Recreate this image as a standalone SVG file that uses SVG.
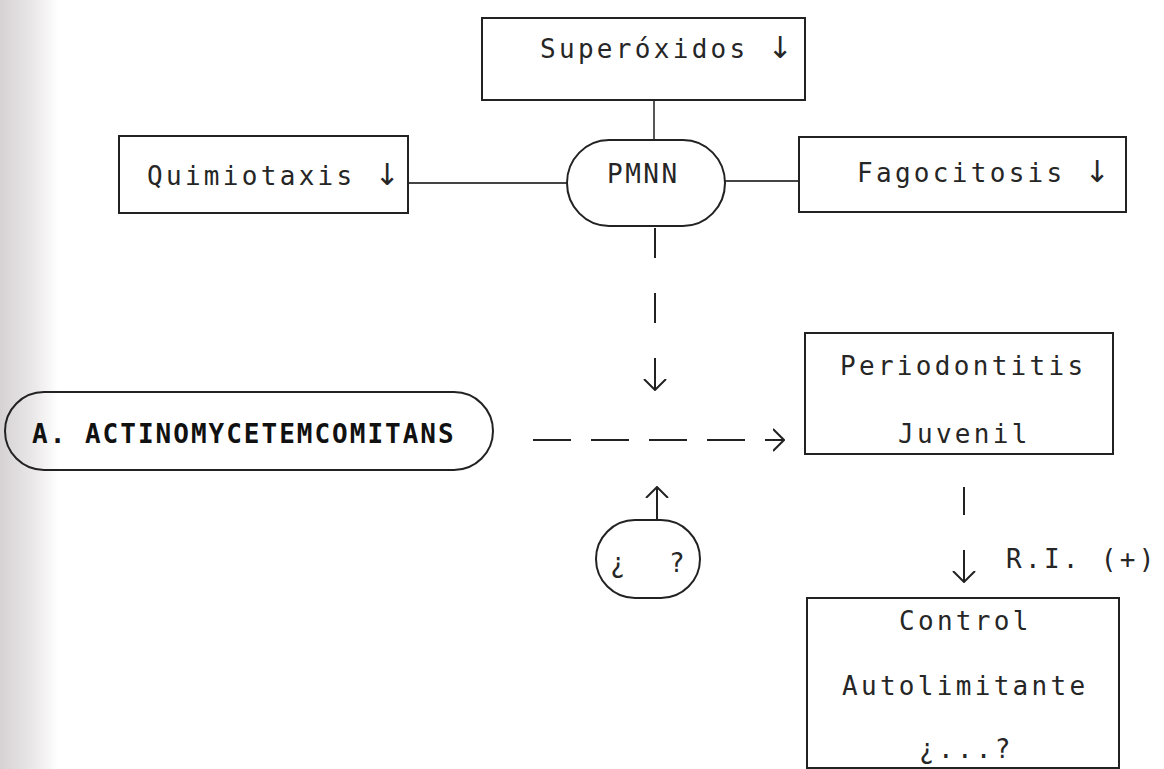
<svg xmlns="http://www.w3.org/2000/svg" width="1164" height="769" viewBox="0 0 1164 769">
  <defs>
    <linearGradient id="edge" x1="0" y1="0" x2="1" y2="0">
      <stop offset="0" stop-color="#d6d2d4"/>
      <stop offset="0.6" stop-color="#ece9ea"/>
      <stop offset="1" stop-color="#ffffff"/>
    </linearGradient>
    <marker id="head" viewBox="0 0 12 24" refX="11" refY="12" markerWidth="12" markerHeight="24" markerUnits="userSpaceOnUse" orient="auto">
      <path d="M0,1 L11,12 L0,23" fill="none" stroke="#222" stroke-width="2"/>
    </marker>
  </defs>
  <style>
    .box { fill: none; stroke: #222; stroke-width: 2; }
    .t { font-family: "DejaVu Sans Mono", "Liberation Mono", monospace; font-size: 26px; letter-spacing: 3.3px; fill: #262626; }
    .ar { font-family: "DejaVu Sans", "Liberation Sans", sans-serif; font-size: 30px; letter-spacing: 0; }
    .b { font-family: "DejaVu Sans Mono", "Liberation Mono", monospace; font-size: 26px; font-weight: bold; letter-spacing: 2px; fill: #111; }
    .line { fill: none; stroke: #444; stroke-width: 1.8; }
    .arrow { fill: none; stroke: #222; stroke-width: 2; marker-end: url(#head); }
  </style>
  <rect width="1164" height="769" fill="#ffffff"/>
  <rect x="0" y="0" width="58" height="769" fill="url(#edge)"/>

  <g id="connectors">
    <path class="line" d="M654,100 V140"/>
    <path class="line" d="M408,183 H567"/>
    <path class="line" d="M725,181 H799"/>
    <path class="arrow" d="M655,228 V258 M655,293 V323 M655,358 V390"/>
    <path class="arrow" d="M657,520 V487"/>
    <path class="arrow" d="M533,440 H571 M591,440 H629 M649,440 H687 M707,440 H745 M765,440 H784"/>
    <path class="arrow" d="M964,487 V515 M964,550 V582"/>
  </g>

  <g id="superoxidos">
    <rect class="box" x="482" y="18" width="323" height="82"/>
    <text class="t" x="540" y="58">Superóxidos <tspan class="ar">↓</tspan></text>
  </g>

  <g id="quimiotaxis">
    <rect class="box" x="119" y="136" width="289" height="77"/>
    <text class="t" x="147" y="185">Quimiotaxis <tspan class="ar">↓</tspan></text>
  </g>

  <g id="pmnn">
    <rect class="box" x="567" y="140" width="158" height="86" rx="42" ry="43"/>
    <text class="t" x="607" y="183" style="letter-spacing:2.5px">PMNN</text>
  </g>

  <g id="fagocitosis">
    <rect class="box" x="799" y="137" width="327" height="75"/>
    <text class="t" x="857" y="182">Fagocitosis <tspan class="ar">↓</tspan></text>
  </g>

  <g id="actinomycetemcomitans">
    <rect class="box" x="5" y="392" width="488" height="78" rx="39" ry="39"/>
    <text class="b" x="32" y="443">A. ACTINOMYCETEMCOMITANS</text>
  </g>

  <g id="periodontitis">
    <rect class="box" x="805" y="333" width="308" height="121"/>
    <text class="t" x="840" y="375">Periodontitis</text>
    <text class="t" x="898" y="443">Juvenil</text>
  </g>

  <g id="desconocido">
    <rect class="box" x="596" y="520" width="104" height="78" rx="39" ry="39"/>
    <text class="t" y="572"><tspan x="610">¿</tspan><tspan x="669">?</tspan></text>
  </g>

  <g id="ri-label">
    <text class="t" x="1006" y="568">R.I. (+)</text>
  </g>

  <g id="control">
    <rect class="box" x="807" y="598" width="312" height="170"/>
    <text class="t" x="899" y="630">Control</text>
    <text class="t" x="842" y="695">Autolimitante</text>
    <text class="t" x="919" y="758">¿...?</text>
  </g>
</svg>
